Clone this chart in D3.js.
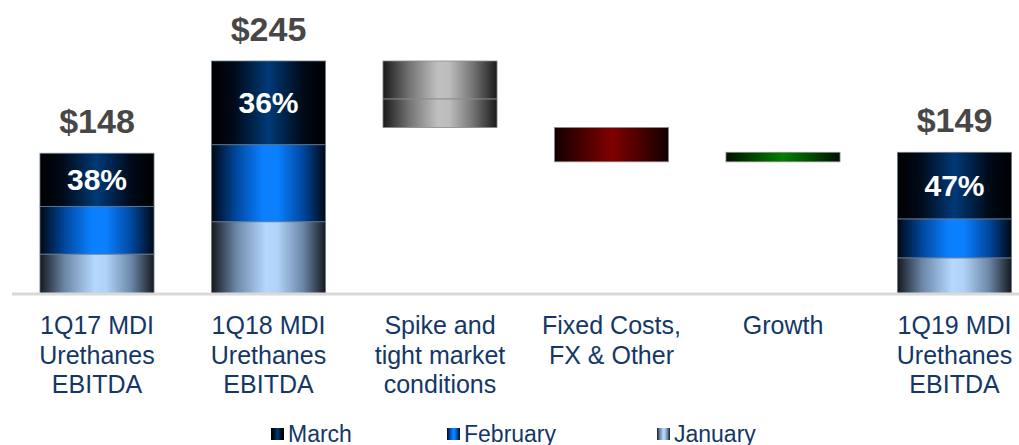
<!DOCTYPE html>
<html>
<head>
<meta charset="utf-8">
<script src="https://cdn.jsdelivr.net/npm/d3@7"></script>
<style>
  html, body { margin: 0; padding: 0; background: #ffffff; }
  svg { display: block; font-family: "Liberation Sans", Arial, sans-serif; }
</style>
</head>
<body>
<div id="chart"></div>
<script>
// ---- data ----
const categories = ["1Q17 MDI Urethanes EBITDA", "1Q18 MDI Urethanes EBITDA", "Spike and tight market conditions", "Fixed Costs, FX & Other", "Growth", "1Q19 MDI Urethanes EBITDA"];
const categoryLines = [
  ["1Q17 MDI", "Urethanes", "EBITDA"],
  ["1Q18 MDI", "Urethanes", "EBITDA"],
  ["Spike and", "tight market", "conditions"],
  ["Fixed Costs,", "FX & Other"],
  ["Growth"],
  ["1Q19 MDI", "Urethanes", "EBITDA"]
];
const seriesNames = ["March", "February", "January"];
// stacked totals bars (index into categories)
const totalIdx = [0, 1, 5];
const january  = [42, 76, 38];
const february = [50, 81, 41];
const march    = [56, 88, 70];
const totalLabels = ["$148", "$245", "$149"];
const marchShare  = ["38%", "36%", "47%"];
// bridge steps
const spikeParts = [-40, -30];   // drawn as two pieces
const fixedCosts = [-36];
const growth     = [10];

const W = 1019, H = 445;
const svg = d3.select("#chart").append("svg").attr("width", W).attr("height", H);
const defs = svg.append("defs");

function hgrad(id, stops) {
  const g = defs.append("linearGradient").attr("id", id)
    .attr("x1", "0%").attr("x2", "100%").attr("y1", "0%").attr("y2", "0%");
  stops.forEach(([o, c]) => g.append("stop").attr("offset", o).attr("stop-color", c));
}
hgrad("gMarch", [["0%", "#000000"], ["20%", "#000a18"], ["50%", "#003a78"], ["80%", "#000a18"], ["100%", "#000000"]]);
hgrad("gFeb",   [["0%", "#000814"], ["22%", "#0048a0"], ["45%", "#0a80ff"], ["58%", "#0a80ff"], ["80%", "#0048a0"], ["100%", "#000814"]]);
hgrad("gJan",   [["0%", "#15191f"], ["22%", "#6c88a8"], ["48%", "#b6d8ff"], ["58%", "#b0d2f8"], ["80%", "#6c88a8"], ["100%", "#15191f"]]);
hgrad("gGray",  [["0%", "#1a1a1a"], ["22%", "#707070"], ["48%", "#c0c0c0"], ["58%", "#bdbdbd"], ["80%", "#707070"], ["100%", "#1a1a1a"]]);
hgrad("gRed",   [["0%", "#120000"], ["25%", "#4a0000"], ["50%", "#800000"], ["75%", "#4a0000"], ["100%", "#120000"]]);
hgrad("gGreen", [["0%", "#001000"], ["25%", "#004a00"], ["50%", "#008000"], ["75%", "#004a00"], ["100%", "#001000"]]);

const x = d3.scaleBand().domain(categories).range([11.25, 1040.25]).paddingInner(0.335).paddingOuter(0.1675);
const y = d3.scaleLinear().domain([0, 245]).range([294, 61]);

const seriesFill = { "March": "url(#gMarch)", "February": "url(#gFeb)", "January": "url(#gJan)" };

// stacked totals
const stackRows = totalIdx.map((ci, i) => ({ cat: categories[ci], January: january[i], February: february[i], March: march[i] }));
const stack = d3.stack().keys(["January", "February", "March"])(stackRows);
const gBars = svg.append("g");
stack.forEach(layer => {
  gBars.selectAll(null).data(layer).enter().append("rect")
    .attr("x", d => x(d.data.cat))
    .attr("width", x.bandwidth())
    .attr("y", d => y(d[1]))
    .attr("height", d => y(d[0]) - y(d[1]))
    .attr("fill", seriesFill[layer.key])
    .attr("stroke", "#6b7b8f").attr("stroke-width", 0.8);
});

// bridge pieces
function bridge(cat, start, deltas, fill) {
  let cur = start;
  deltas.forEach(dv => {
    const a = cur, b = cur + dv;
    svg.append("rect")
      .attr("x", x(cat)).attr("width", x.bandwidth())
      .attr("y", y(Math.max(a, b))).attr("height", Math.abs(y(a) - y(b)))
      .attr("fill", fill).attr("stroke", "#8a8a8a").attr("stroke-width", 0.8);
    cur = b;
  });
  return cur;
}
const total18 = january[1] + february[1] + march[1];
let level = bridge(categories[2], total18, spikeParts, "url(#gGray)");
level = bridge(categories[3], level, fixedCosts, "url(#gRed)");
level = bridge(categories[4], level, growth, "url(#gGreen)");

// axis line
svg.append("line").attr("x1", 12).attr("x2", W).attr("y1", y(0)).attr("y2", y(0))
  .attr("stroke", "#d9d9d9").attr("stroke-width", 3);

// total labels
stackRows.forEach((r, i) => {
  const tot = r.January + r.February + r.March;
  svg.append("text").attr("x", x(r.cat) + x.bandwidth() / 2).attr("y", y(tot) - 20)
    .attr("text-anchor", "middle").attr("font-size", 34).attr("font-weight", "bold")
    .attr("fill", "#474747").text(totalLabels[i]);
  const top = tot, bottom = r.January + r.February;
  svg.append("text").attr("x", x(r.cat) + x.bandwidth() / 2).attr("y", (y(top) + y(bottom)) / 2 + 10.5)
    .attr("text-anchor", "middle").attr("font-size", 30).attr("font-weight", "bold")
    .attr("fill", "#ffffff").text(marchShare[i]);
});

// category labels
categories.forEach((c, i) => {
  const t = svg.append("text").attr("text-anchor", "middle").attr("font-size", 25).attr("fill", "#143767");
  categoryLines[i].forEach((ln, j) => {
    t.append("tspan").attr("x", x(c) + x.bandwidth() / 2).attr("y", 334 + j * 29.5).text(ln);
  });
});

// legend
const legendX = [271, 447, 657];
const legendFill = ["url(#gMarch)", "url(#gFeb)", "url(#gJan)"];
seriesNames.forEach((s, i) => {
  svg.append("rect").attr("x", legendX[i]).attr("y", 428).attr("width", 13).attr("height", 12)
    .attr("fill", legendFill[i]);
  svg.append("text").attr("x", legendX[i] + 17).attr("y", 442).attr("font-size", 23)
    .attr("fill", "#143767").text(s);
});
</script>
</body>
</html>
